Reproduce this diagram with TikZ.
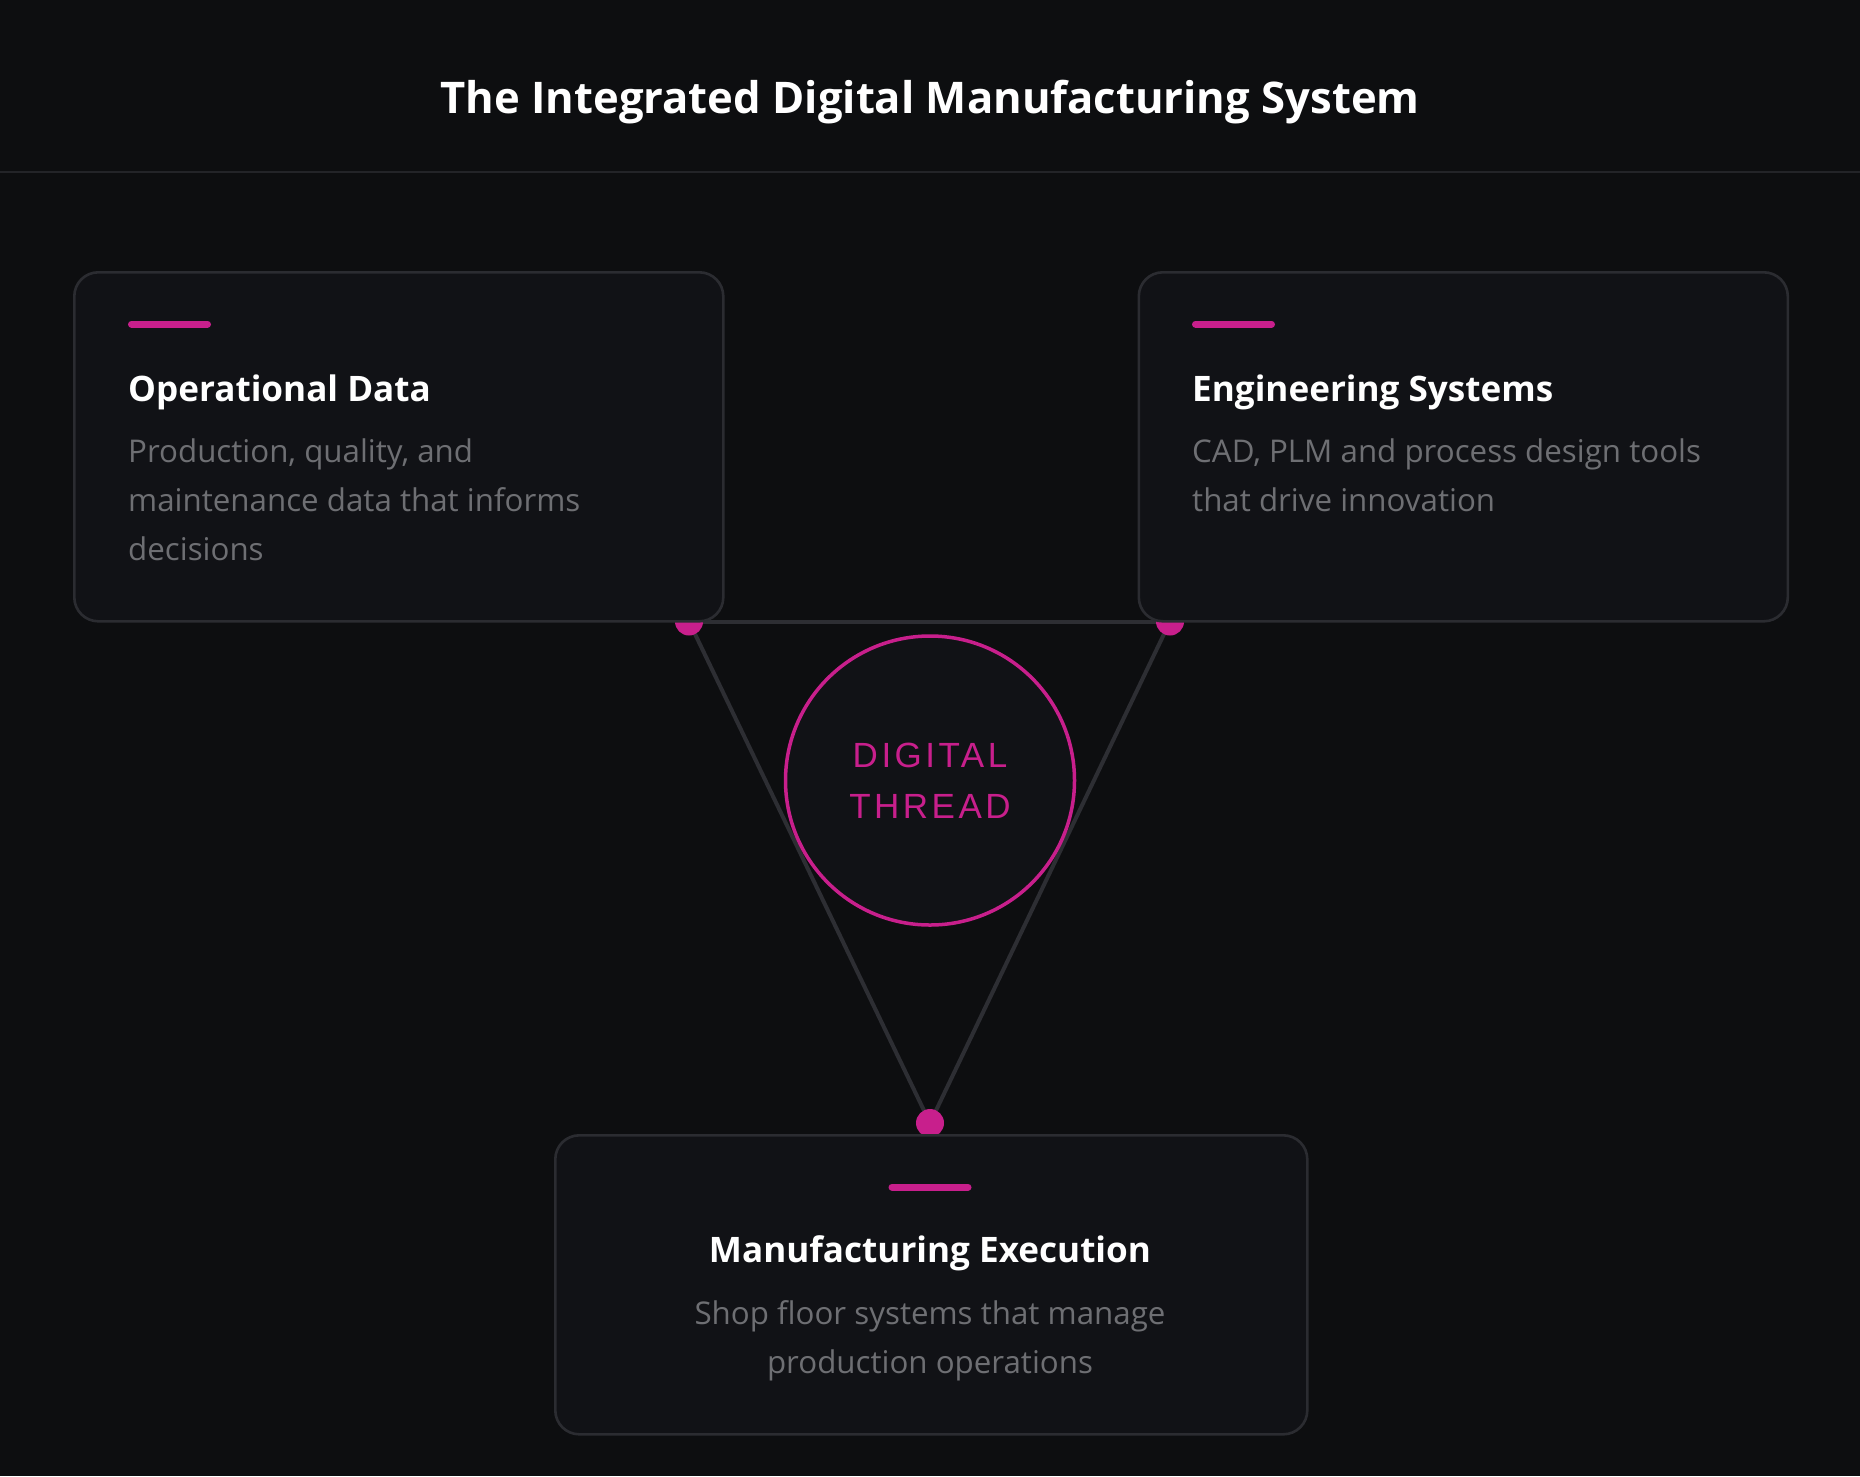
\documentclass[tikz,border=0pt]{standalone}
\usepackage{fontspec}
\setmainfont{Open Sans}
\newfontfamily\threadfont[LetterSpace=10]{Liberation Sans}
\definecolor{bgc}{HTML}{0D0E10}
\definecolor{cardfill}{HTML}{111216}
\definecolor{cardline}{HTML}{2B2C31}
\definecolor{divc}{HTML}{232428}
\definecolor{linkc}{HTML}{2D2E33}
\definecolor{mag}{HTML}{C81F8C}
\definecolor{graytext}{HTML}{6E6F73}
\pgfdeclarelayer{bglayer}
\pgfdeclarelayer{linklayer}
\pgfsetlayers{bglayer,linklayer,main}
\tikzset{
  card/.style={draw=cardline, fill=cardfill, line width=2.6pt, rounded corners=24pt, inner sep=0, anchor=north west},
  accent/.style={draw=mag, line width=7pt, line cap=round},
  conn/.style={draw=linkc, line width=4pt},
  dotn/.style={circle, fill=mag, minimum size=28pt, inner sep=0},
  cardtitle/.style={font=\fontsize{35.1}{40}\selectfont\bfseries, text=white, inner sep=0},
  bodytext/.style={font=\fontsize{31.3}{36}\selectfont, text=graytext, inner sep=0},
}
\begin{document}
\begin{tikzpicture}[x=1pt,y=-1pt]
\begin{pgfonlayer}{bglayer}
\fill[bgc] (0,0) rectangle (1860,1476);
\end{pgfonlayer}
\useasboundingbox (0,0) rectangle (1860,1476);

% title and divider
\node[font=\fontsize{43.6}{50}\selectfont\bfseries, text=white, anchor=base, inner sep=0] (title) at (930,113.5) {The Integrated Digital Manufacturing System};
\coordinate (divl) at (0,172);
\coordinate (divr) at (1860,172);
\draw[divc, line width=2.4pt] (divl) -- (divr);

% connector dots
\node[dotn] (dl) at (689,621.5) {};
\node[dotn] (dr) at (1170,621.5) {};
\node[dotn] (db) at (930,1123) {};
\begin{pgfonlayer}{linklayer}
\draw[conn] (dl.center) -- (dr.center);
\draw[conn] (dl.center) -- (db.center);
\draw[conn] (dr.center) -- (db.center);
\end{pgfonlayer}

% cards
\node[card, minimum width=649pt, minimum height=349pt] (opcard) at (73,271) {};
\node[card, minimum width=649pt, minimum height=349pt] (engcard) at (1137.5,271) {};
\node[card, minimum width=752pt, minimum height=299pt] (mescard) at (554,1134) {};

% accents
\draw[accent] (131.5,324) -- (207.5,324);
\draw[accent] (1195.5,324) -- (1271.5,324);
\draw[accent] (892,1187) -- (968,1187);

% operational data
\node[cardtitle, anchor=base west] (optitle) at (128,401) {Operational Data};
\node[bodytext, anchor=base west] (opl1) at (128,462) {Production, quality, and};
\node[bodytext, anchor=base west] (opl2) at (128,511) {maintenance data that informs};
\node[bodytext, anchor=base west] (opl3) at (128,560) {decisions};

% engineering systems
\node[cardtitle, anchor=base west] (engtitle) at (1192,401) {Engineering Systems};
\node[bodytext, anchor=base west] (engl1) at (1192,462) {CAD, PLM and process design tools};
\node[bodytext, anchor=base west] (engl2) at (1192,511) {that drive innovation};

% manufacturing execution
\node[cardtitle, anchor=base] (mestitle) at (930,1262) {Manufacturing Execution};
\node[bodytext, anchor=base] (mesl1) at (930,1324) {Shop floor systems that manage};
\node[bodytext, anchor=base] (mesl2) at (930,1373) {production operations};

% digital thread
\node[circle, draw=mag, fill=cardfill, line width=3.5pt, minimum size=289pt, inner sep=0,
      font=\threadfont\fontsize{35}{51}\selectfont, text=mag, align=center] (thread) at (930,780.5) {DIGITAL\\THREAD};
\end{tikzpicture}
\end{document}
